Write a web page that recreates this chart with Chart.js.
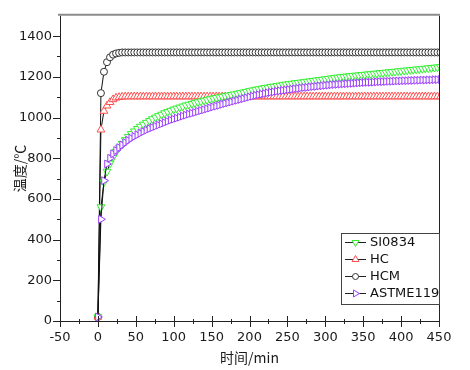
<!DOCTYPE html>
<html><head><meta charset="utf-8">
<script src="https://cdn.jsdelivr.net/npm/chart.js@4.4.1/dist/chart.umd.min.js"></script>
<style>html,body{margin:0;padding:0;background:#fff}#wrap{width:470px;height:370px;position:relative}</style>
</head><body><div id="wrap"><canvas id="c" width="470" height="370"></canvas></div>
<script>
const times = [0,4,8,12,16,20,24,28,32,36,
40,44,48,52,56,60,64,68,72,76,
80,84,88,92,96,100,104,108,112,116,
120,124,128,132,136,140,144,148,152,156,
160,164,168,172,176,180,184,188,192,196,
200,204,208,212,216,220,224,228,232,236,
240,244,248,252,256,260,264,268,272,276,
280,284,288,292,296,300,304,308,312,316,
320,324,328,332,336,340,344,348,352,356,
360,364,368,372,376,380,384,388,392,396,
400,404,408,412,416,420,424,428,432,436,
440,444,448,452];
const si0834 = [20,560,682,735,775,805,832,853,872,890,
906,920,933,945,956,966,975,984,993,1001,
1008,1015,1022,1028,1034,1040,1045,1050,1055,1060,
1064,1068,1072,1076,1080,1084,1087,1091,1094,1097,
1100,1103,1106,1109,1112,1115,1118,1121,1124,1127,
1131,1134,1137,1140,1143,1146,1148,1151,1153,1156,
1158,1160,1163,1165,1167,1169,1171,1173,1175,1177,
1179,1181,1183,1185,1187,1189,1191,1193,1195,1197,
1199,1201,1202,1204,1205,1207,1208,1210,1211,1213,
1214,1216,1217,1219,1220,1222,1223,1225,1226,1228,
1229,1231,1232,1234,1235,1237,1238,1240,1241,1243,
1244,1246,1247,1249];
const hc = [20,940,1032,1058,1075,1089,1097,1100,1102,1103,
1103,1103,1103,1103,1103,1103,1103,1103,1103,1103,
1103,1103,1103,1103,1103,1103,1103,1103,1103,1103,
1103,1103,1103,1103,1103,1103,1103,1103,1103,1103,
1103,1103,1103,1103,1103,1103,1103,1103,1103,1103,
1103,1103,1103,1103,1103,1103,1103,1103,1103,1103,
1103,1103,1103,1103,1103,1103,1103,1103,1103,1103,
1103,1103,1103,1103,1103,1103,1103,1103,1103,1103,
1103,1103,1103,1103,1103,1103,1103,1103,1103,1103,
1103,1103,1103,1103,1103,1103,1103,1103,1103,1103,
1103,1103,1103,1103,1103,1103,1103,1103,1103,1103,
1103,1103,1103,1103];
const hcm = [20,1120,1225,1272,1296,1309,1315,1318,1320,1320,
1320,1320,1320,1320,1320,1320,1320,1320,1320,1320,
1320,1320,1320,1320,1320,1320,1320,1320,1320,1320,
1320,1320,1320,1320,1320,1320,1320,1320,1320,1320,
1320,1320,1320,1320,1320,1320,1320,1320,1320,1320,
1320,1320,1320,1320,1320,1320,1320,1320,1320,1320,
1320,1320,1320,1320,1320,1320,1320,1320,1320,1320,
1320,1320,1320,1320,1320,1320,1320,1320,1320,1320,
1320,1320,1320,1320,1320,1320,1320,1320,1320,1320,
1320,1320,1320,1320,1320,1320,1320,1320,1320,1320,
1320,1320,1320,1320,1320,1320,1320,1320,1320,1320,
1320,1320,1320,1320];
const astme119 = [20,500,690,772,800,822,838,852,865,877,
888,898,907,915,923,931,938,945,951,957,
963,969,975,981,987,992,997,1002,1007,1012,
1017,1021,1025,1030,1034,1038,1043,1047,1052,1056,
1060,1065,1069,1073,1077,1081,1085,1089,1093,1097,
1101,1105,1109,1112,1115,1118,1121,1124,1126,1129,
1131,1133,1135,1137,1139,1141,1143,1145,1147,1148,
1150,1152,1153,1155,1156,1158,1159,1161,1162,1163,
1164,1165,1166,1167,1168,1169,1170,1171,1172,1173,
1173,1174,1175,1176,1176,1177,1178,1178,1179,1180,
1180,1181,1181,1182,1182,1183,1183,1184,1184,1185,
1185,1186,1186,1187];
const seriesNames = ['SI0834','HC','HCM','ASTME119'];
const xTicks = [-50,0,50,100,150,200,250,300,350,400,450];
const xMinor = [-25,25,75,125,175,225,275,325,375,425];
const yTicks = [0,200,400,600,800,1000,1200,1400];
const yMinor = [100,300,500,700,900,1100,1300];

Chart.defaults.font.family = "'DejaVu Sans', sans-serif";
Chart.defaults.color = '#1a1a1a';

function pts(vals){ return times.map((t,i)=>({x:t,y:vals[i]})); }

const styles = [
  {c:'#33ee33', ps:'triangle', rot:180, r:4.5},
  {c:'#ff4f4f', ps:'triangle', rot:0, r:4.5},
  {c:'#333333', ps:'circle', rot:0, r:3.5},
  {c:'#9b3dff', ps:'triangle', rot:90, r:4.5}
];
const allVals = [si0834, hc, hcm, astme119];

const datasets = allVals.map((v,i)=>({
  label: seriesNames[i],
  data: pts(v),
  borderColor:'#111',
  borderWidth:1,
  pointStyle: styles[i].ps,
  rotation: styles[i].rot,
  pointRadius: styles[i].r,
  pointBorderColor: styles[i].c,
  pointBackgroundColor:'#ffffff',
  pointBorderWidth:1,
  tension:0,
  order: i===3 ? -1 : i
}));

const framePlugin = {
  id:'frame',
  afterDatasetsDraw(chart){
    const {ctx, chartArea:a, scales:{x,y}} = chart;
    ctx.save();
    ctx.strokeStyle='#8c8c8c'; ctx.lineWidth=2;
    ctx.beginPath(); ctx.moveTo(a.left-2, a.top-1); ctx.lineTo(a.right+1, a.top-1); ctx.stroke();
    ctx.strokeStyle='#222'; ctx.lineWidth=1;
    ctx.beginPath();
    ctx.moveTo(a.left+0.5, a.top); ctx.lineTo(a.left+0.5, a.bottom+0.5);
    ctx.lineTo(a.right+0.5, a.bottom+0.5);
    ctx.moveTo(a.right+0.5, a.top); ctx.lineTo(a.right+0.5, a.bottom+0.5);
    ctx.stroke();
    ctx.beginPath();
    xTicks.forEach(v=>{const p=Math.round(x.getPixelForValue(v))+0.5; ctx.moveTo(p,a.bottom-5); ctx.lineTo(p,a.bottom+6);});
    xMinor.forEach(v=>{const p=Math.round(x.getPixelForValue(v))+0.5; ctx.moveTo(p,a.bottom-2); ctx.lineTo(p,a.bottom+3);});
    yTicks.forEach(v=>{const p=Math.round(y.getPixelForValue(v))+0.5; ctx.moveTo(a.left-7,p); ctx.lineTo(a.left+1,p);});
    yMinor.forEach(v=>{const p=Math.round(y.getPixelForValue(v))+0.5; ctx.moveTo(a.left-3,p); ctx.lineTo(a.left+1,p);});
    ctx.stroke();
    const bx = a.right-98, by = a.bottom-88, bw = 98, bh = 71;
    ctx.fillStyle='#fff'; ctx.fillRect(bx,by,bw,bh);
    ctx.strokeStyle='#444'; ctx.lineWidth=1;
    ctx.strokeRect(bx+0.5,by+0.5,bw,bh);
    chart.data.datasets.forEach((ds,i)=>{
      const cy = by + 9.5 + i*17;
      ctx.strokeStyle='#222'; ctx.lineWidth=1;
      ctx.beginPath(); ctx.moveTo(bx+4,cy); ctx.lineTo(bx+25,cy); ctx.stroke();
      ctx.fillStyle='#fff'; ctx.strokeStyle=ds.pointBorderColor;
      Chart.helpers.drawPoint(ctx,{pointStyle:ds.pointStyle, rotation:ds.rotation, radius:ds.pointRadius-0.5, borderWidth:1}, bx+14.5, cy);
      ctx.fillStyle='#111'; ctx.font="13px 'DejaVu Sans'"; ctx.textBaseline='middle'; ctx.textAlign='left';
      ctx.fillText(ds.label, bx+29, cy+0.5);
    });
    ctx.restore();
  }
};

new Chart(document.getElementById('c'), {
  type:'line',
  data:{datasets},
  options:{
    responsive:false, animation:false, devicePixelRatio:1,
    layout:{padding:{top:14,right:31,left:0,bottom:0}},
    plugins:{legend:{display:false}, tooltip:{enabled:false}},
    scales:{
      x:{type:'linear', min:-50, max:450,
        afterBuildTicks:s=>{s.ticks = xTicks.map(v=>({value:v}));},
        afterFit:s=>{s.height=49;},
        grid:{display:false, drawTicks:false}, border:{display:false},
        ticks:{font:{size:13}, padding:9, maxRotation:0, autoSkip:false, callback:v=>String(v)},
        title:{display:true, text:'时间/min', font:{family:"'Noto Sans CJK SC'", size:14}, padding:{top:0,bottom:4}, color:'#1a1a1a'}
      },
      y:{type:'linear', min:0, max:1500,
        afterBuildTicks:s=>{s.ticks = yTicks.map(v=>({value:v}));},
        afterFit:s=>{s.width=60;},
        grid:{display:false, drawTicks:false}, border:{display:false},
        ticks:{font:{size:13}, padding:8, callback:v=>String(v)},
        title:{display:true, text:'温度/℃', font:{family:"'Noto Sans CJK SC'", size:14}, padding:{top:11,bottom:0}, color:'#1a1a1a'}
      }
    }
  },
  plugins:[framePlugin]
});
</script></body></html>
